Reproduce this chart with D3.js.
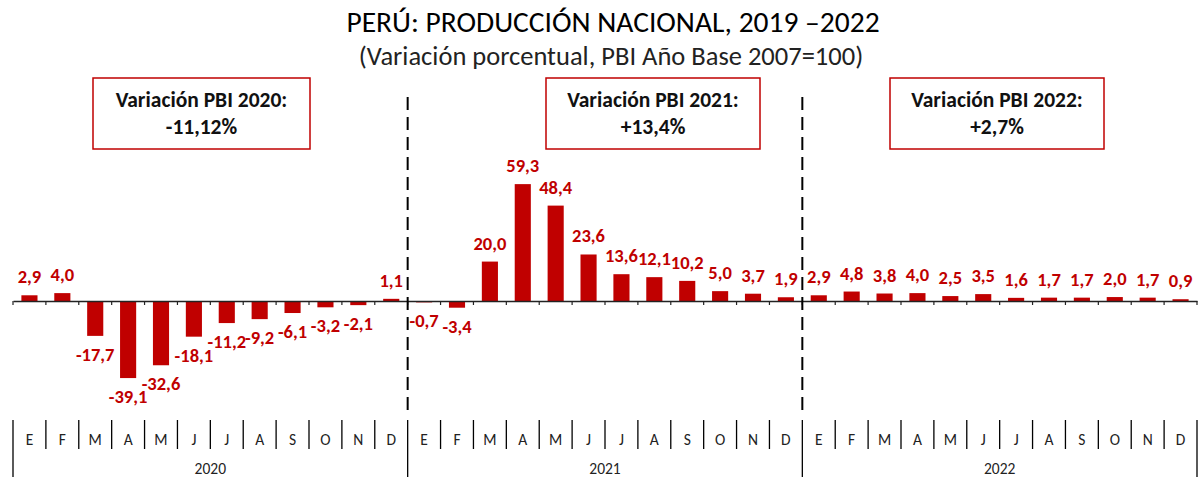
<!DOCTYPE html>
<html><head><meta charset="utf-8">
<script src="https://cdn.jsdelivr.net/npm/d3@7"></script>
<style>
html,body{margin:0;padding:0;background:#fff;}
svg{display:block;font-family:Carlito,Calibri,Lato,sans-serif;}
</style></head>
<body><svg id="c" width="1200" height="477"></svg>
<script>
const months = ["E","F","M","A","M","J","J","A","S","O","N","D"];
const years = ["2020","2021","2022"];
const values2020 = [2.9, 4.0, -17.7, -39.1, -32.6, -18.1, -11.2, -9.2, -6.1, -3.2, -2.1, 1.1];
const values2021 = [-0.7, -3.4, 20.0, 59.3, 48.4, 23.6, 13.6, 12.1, 10.2, 5.0, 3.7, 1.9];
const values2022 = [2.9, 4.8, 3.8, 4.0, 2.5, 3.5, 1.6, 1.7, 1.7, 2.0, 1.7, 0.9];
const boxTitles = ["Variación PBI 2020:", "Variación PBI 2021:", "Variación PBI 2022:"];
const boxValues = ["-11,12%", "+13,4%", "+2,7%"];
const title = "PERÚ: PRODUCCIÓN NACIONAL, 2019 –2022";
const subtitle = "(Variación porcentual, PBI Año Base 2007=100)";

const red = "#c00000";
const svg = d3.select("#c");
const allVals = [values2020, values2021, values2022];
const data = [];
years.forEach((y, yi) => allVals[yi].forEach((v, mi) => data.push({key: y + "-" + mi, year: y, month: months[mi], v})));

const x0 = 13, x1 = 1197;
const x = d3.scaleBand().domain(data.map(d => d.key)).range([x0, x1]).padding(0);
const zeroY = 301, ppu = 1.971;
const y = d3.scaleLinear().domain([-40, 60]).range([zeroY + 40 * ppu, zeroY - 60 * ppu]);
const fmt = v => d3.format(".1f")(v).replace(".", ",").replace("\u2212", "-");

// titles
svg.append("text").attr("x", 613).attr("y", 32).attr("text-anchor", "middle")
  .attr("font-size", 29.5).attr("fill", "#000").text(title);
svg.append("text").attr("x", 611).attr("y", 65).attr("text-anchor", "middle")
  .attr("font-size", 26.5).attr("fill", "#222").text(subtitle);

// bars
const bw = x.bandwidth() * 0.49;
svg.append("g").selectAll("rect").data(data).join("rect")
  .attr("x", d => x(d.key) + (x.bandwidth() - bw) / 2)
  .attr("width", bw)
  .attr("y", d => y(Math.max(0, d.v)))
  .attr("height", d => Math.abs(y(d.v) - y(0)))
  .attr("fill", red);

// labels
svg.append("g").selectAll("text").data(data).join("text")
  .attr("x", d => x(d.key) + x.bandwidth() / 2)
  .attr("y", d => d.v >= 0 ? y(d.v) - 12 : y(d.v) + 25)
  .attr("text-anchor", "middle").attr("font-size", 18.5).attr("font-weight", "bold")
  .attr("fill", red).text(d => fmt(d.v));

// zero axis
const ax = svg.append("g").attr("transform", `translate(0,${zeroY})`)
  .call(d3.axisBottom(x).tickValues([]).tickSizeOuter(0));
ax.select(".domain").attr("stroke", "#222").attr("stroke-width", 1.5);
const bounds = d3.range(data.length + 1).map(i => x0 + i * x.step());
svg.append("g").selectAll("line").data(bounds).join("line")
  .attr("x1", d => d).attr("x2", d => d).attr("y1", zeroY).attr("y2", zeroY + 4)
  .attr("stroke", "#222").attr("stroke-width", 1.2);

// dashed year separators
const yearBounds = [12, 24].map(i => x0 + i * x.step());
svg.append("g").selectAll("line").data(yearBounds).join("line")
  .attr("x1", d => d).attr("x2", d => d).attr("y1", 97).attr("y2", 414)
  .attr("stroke", "#000").attr("stroke-width", 2).attr("stroke-dasharray", "13,7");

// bottom category axis
const monthSep = bounds.filter((b, i) => i % 12 !== 0);
svg.append("g").selectAll("line").data(monthSep).join("line")
  .attr("x1", d => d).attr("x2", d => d).attr("y1", 420).attr("y2", 449)
  .attr("stroke", "#000").attr("stroke-width", 1.3);
const yearSep = bounds.filter((b, i) => i % 12 === 0);
svg.append("g").selectAll("line").data(yearSep).join("line")
  .attr("x1", d => d).attr("x2", d => d).attr("y1", 420).attr("y2", 477)
  .attr("stroke", "#000").attr("stroke-width", 1.3);
svg.append("g").selectAll("text").data(data).join("text")
  .attr("x", d => x(d.key) + x.bandwidth() / 2).attr("y", 444.5)
  .attr("text-anchor", "middle").attr("font-size", 15.5).attr("fill", "#222").text(d => d.month);
svg.append("g").selectAll("text").data(years).join("text")
  .attr("x", (d, i) => x0 + (i * 12 + 6) * x.step()).attr("y", 474)
  .attr("text-anchor", "middle").attr("font-size", 15.5).attr("fill", "#222").text(d => d);

// annotation boxes
const boxes = [{x: 93, w: 217}, {x: 546, w: 214}, {x: 890, w: 214}];
const bg = svg.append("g").selectAll("g").data(boxes).join("g");
bg.append("rect").attr("x", d => d.x).attr("y", 78).attr("width", d => d.w).attr("height", 71)
  .attr("fill", "#fff").attr("stroke", red).attr("stroke-width", 1.5);
bg.append("text").attr("x", d => d.x + d.w / 2).attr("y", 107).attr("text-anchor", "middle")
  .attr("font-size", 21.5).attr("font-weight", "bold").attr("fill", "#111").text((d, i) => boxTitles[i]);
bg.append("text").attr("x", d => d.x + d.w / 2).attr("y", 134).attr("text-anchor", "middle")
  .attr("font-size", 21.5).attr("font-weight", "bold").attr("fill", "#111").text((d, i) => boxValues[i]);
</script></body></html>
